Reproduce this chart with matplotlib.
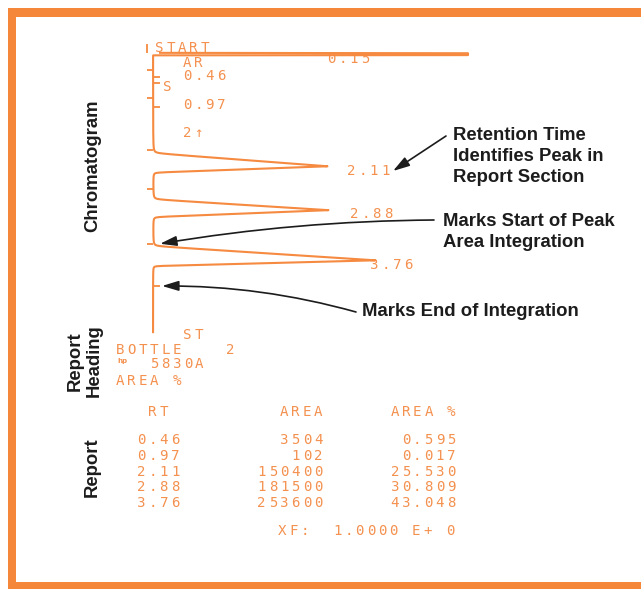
import numpy as np
import matplotlib.pyplot as plt

# Report values (HP 5830A printout)
rt = [0.46, 0.97, 2.11, 2.88, 3.76]
area = [3504, 102, 150400, 181500, 253600]
area_pct = [0.595, 0.017, 25.530, 30.809, 43.048]

# Chromatogram trace: solvent peak (off scale) + three main peaks
peak_rt = [0.15, 2.11, 2.88, 3.76]
peak_height = [2000, 174, 175, 222]      # pen deflection
peak_front = [0.03, 0.23, 0.19, 0.25]    # min, leading edge
peak_back = [0.012, 0.11, 0.12, 0.10]    # min, trailing edge
trace_start, trace_end = 0.12, 5.02
full_scale = 315

# event marks on the time axis (min)
marks_left = [0.42, 0.91, 1.82, 2.51, 3.47]
marks_right = [0.54, 0.65, 1.07, 4.21]

W, H = 641, 589
ORANGE = "#f5873b"
TRACE = "#f58a40"
PRINT = "#f4914f"
INK = "#1c1c1c"

fig = plt.figure(figsize=(W / 100, H / 100), dpi=100)
ax = fig.add_axes([0, 0, 1, 1])
ax.set_xlim(0, W)
ax.set_ylim(H, 0)
ax.axis("off")

# chromatogram axes: x = pen deflection from baseline, y = minutes
base_px, t0_px, px_per_min = 153, 46, 57
ch = fig.add_axes([0, 0, 1, 1])
ch.set_xlim(-base_px, W - base_px)
ch.set_ylim((H - t0_px) / px_per_min, -t0_px / px_per_min)
ch.axis("off")

# frame
ax.add_patch(plt.Rectangle((8, 8), 8, 580, color=ORANGE, lw=0))
ax.add_patch(plt.Rectangle((8, 8), W, 9, color=ORANGE, lw=0))
ax.add_patch(plt.Rectangle((8, 582), W, 8, color=ORANGE, lw=0))

# trace (pen slews in straight lines, rounds off at the baseline)
t = np.arange(trace_start, trace_end, 0.0005)
sig = np.zeros_like(t)
for r, h, wf, wb in zip(peak_rt, peak_height, peak_front, peak_back):
    d = t - r
    w = np.where(d < 0, wf, wb)
    u = h * (1 - np.abs(d) / w)
    sig += 0.5 * (u + np.sqrt(u ** 2 + 14 ** 2))
sig = np.minimum(sig, full_scale)
ch.plot(sig, t, color=TRACE, lw=1.5, solid_joinstyle="round")

ch.hlines(marks_left, -6, 0, color=TRACE, lw=1.3)
ch.hlines(marks_right, 0, 7, color=TRACE, lw=1.3)
ch.vlines(-6, trace_start - 0.16, trace_start, color=TRACE, lw=1.3)

# dot-matrix style printer text
PITCH = 11.3
GLYPH = 8.0


def printer(x, y, s, align="left", size=10.2):
    if align == "right":
        x = x - GLYPH - (len(s) - 1) * PITCH
    for i, c in enumerate(s):
        if c != " ":
            ax.text(x + i * PITCH, y, c, family="DejaVu Sans Mono", fontsize=size,
                    color=PRINT, ha="left", va="baseline")


printer(155, 52, "START")
printer(327, 63, "0.15")
printer(183, 67, "AR")
printer(183, 80, "0.46")
printer(163, 91, "S")
printer(183, 109, "0.97")
printer(183, 137, "2↑")
printer(347, 175, "2.11")
printer(350, 218, "2.88")
printer(370, 269, "3.76")

printer(183, 339, "ST")
printer(116, 354, "BOTTLE")
printer(226, 354, "2")
ax.text(117, 363, "hp", family="DejaVu Sans", fontsize=5, fontweight="bold",
        color=PRINT, va="baseline")
printer(150, 368, "5830A")
printer(116, 385, "AREA %")

printer(148, 416, "RT")
printer(322, 416, "AREA", align="right")
printer(455, 416, "AREA %", align="right")
for i in range(len(rt)):
    yb = 444 + i * 15.8
    printer(137, yb, f"{rt[i]:.2f}")
    printer(322, yb, str(area[i]), align="right")
    printer(455, yb, f"{area_pct[i]:.3f}", align="right")
printer(278, 535, "XF:")
printer(333, 535, "1.0000 E+ 0")

# section labels
lab = dict(family="Liberation Sans", fontsize=13.3, fontweight="bold", color=INK)
ax.text(93, 166, "Chromatogram", rotation=90, ha="center", va="center", **lab)
ax.text(85, 361, "Report\nHeading", rotation=90, ha="center", va="center",
        linespacing=1.15, **lab)
ax.text(92, 467, "Report", rotation=90, ha="center", va="center", **lab)

# callouts
notes = [
    (453, 140, ["Retention Time", "Identifies Peak in", "Report Section"]),
    (443, 226, ["Marks Start of Peak", "Area Integration"]),
    (362, 316, ["Marks End of Integration"]),
]
for x, y, lines in notes:
    for k, s in enumerate(lines):
        ax.text(x, y + k * 21, s, ha="left", va="baseline", **lab)

arrow = dict(arrowstyle="-|>,head_length=1.0,head_width=0.3", color=INK,
             lw=1.2, mutation_scale=10, shrinkA=0, shrinkB=0)
ax.annotate("", xy=(393, 171), xytext=(446, 136), arrowprops=arrow)
ax.annotate("", xy=(7, marks_left[-1]), xycoords=ch.transData,
            xytext=(434, 220), textcoords=ax.transData,
            arrowprops=dict(arrow, connectionstyle="arc3,rad=0.04"))
ax.annotate("", xy=(9, marks_right[-1]), xycoords=ch.transData,
            xytext=(356, 312), textcoords=ax.transData,
            arrowprops=dict(arrow, connectionstyle="arc3,rad=0.07"))

fig.savefig("out.png", dpi=100)
